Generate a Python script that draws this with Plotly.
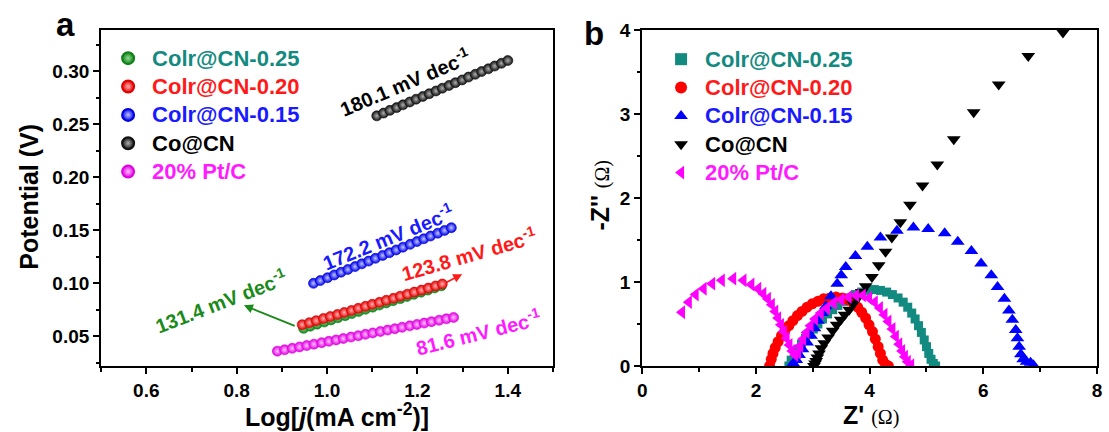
import plotly.graph_objects as go

# ---------------- Panel a : Tafel data ----------------
x_co25 = [0.948, 0.963, 0.978, 0.994, 1.009, 1.024, 1.040, 1.055, 1.070, 1.085, 1.101,
          1.116, 1.131, 1.146, 1.162, 1.177, 1.192, 1.208, 1.223, 1.238, 1.253]
y_co25 = [0.0575, 0.0595, 0.0615, 0.0635, 0.0655, 0.0675, 0.0695, 0.0715, 0.0735, 0.0755, 0.0775,
          0.0795, 0.0815, 0.0836, 0.0856, 0.0876, 0.0896, 0.0916, 0.0936, 0.0956, 0.0976]
x_co20 = [0.945, 0.961, 0.976, 0.992, 1.007, 1.023, 1.038, 1.054, 1.069, 1.085, 1.100,
          1.116, 1.131, 1.147, 1.162, 1.178, 1.193, 1.209, 1.224, 1.240, 1.255]
y_co20 = [0.0610, 0.0629, 0.0648, 0.0668, 0.0687, 0.0706, 0.0725, 0.0744, 0.0764, 0.0783, 0.0802,
          0.0821, 0.0840, 0.0859, 0.0879, 0.0898, 0.0917, 0.0936, 0.0955, 0.0975, 0.0994]
x_co15 = [0.970, 0.985, 1.001, 1.016, 1.031, 1.046, 1.062, 1.077, 1.092, 1.107, 1.123,
          1.138, 1.153, 1.168, 1.184, 1.199, 1.214, 1.229, 1.245, 1.260, 1.275]
y_co15 = [0.1000, 0.1026, 0.1053, 0.1079, 0.1105, 0.1131, 0.1158, 0.1184, 0.1210, 0.1236, 0.1263,
          0.1289, 0.1315, 0.1341, 0.1368, 0.1394, 0.1420, 0.1446, 0.1473, 0.1499, 0.1525]
x_cocn = [1.110, 1.125, 1.139, 1.154, 1.168, 1.183, 1.197, 1.212, 1.226, 1.241, 1.255,
          1.270, 1.284, 1.299, 1.313, 1.328, 1.342, 1.357, 1.371, 1.386, 1.400]
y_cocn = [0.2580, 0.2606, 0.2632, 0.2658, 0.2684, 0.2711, 0.2737, 0.2763, 0.2789, 0.2815, 0.2841,
          0.2867, 0.2893, 0.2919, 0.2946, 0.2972, 0.2998, 0.3024, 0.3050, 0.3076, 0.3102]
x_ptc = [0.890, 0.906, 0.923, 0.939, 0.955, 0.971, 0.988, 1.004, 1.020, 1.036, 1.053, 1.069, 1.085,
         1.101, 1.118, 1.134, 1.150, 1.166, 1.183, 1.199, 1.215, 1.231, 1.248, 1.264, 1.280]
y_ptc = [0.0360, 0.0373, 0.0387, 0.0400, 0.0413, 0.0426, 0.0440, 0.0453, 0.0466, 0.0479, 0.0493, 0.0506, 0.0519,
         0.0532, 0.0546, 0.0559, 0.0572, 0.0585, 0.0599, 0.0612, 0.0625, 0.0638, 0.0652, 0.0665, 0.0678]

tafel_labels = ["131.4 mV dec<sup>-1</sup>", "123.8 mV dec<sup>-1</sup>", "172.2 mV dec<sup>-1</sup>",
                "180.1 mV dec<sup>-1</sup>", "81.6 mV dec<sup>-1</sup>"]

# ---------------- Panel b : Nyquist data ----------------
zr_co25 = [2.58, 2.62, 2.68, 2.74, 2.80, 2.87, 2.94, 3.01, 3.09, 3.17, 3.26, 3.35, 3.44, 3.54, 3.64, 3.75, 3.86,
           3.97, 4.08, 4.19, 4.30, 4.40, 4.50, 4.59, 4.67, 4.74, 4.80, 4.86, 4.91, 4.96, 5.00, 5.04, 5.08, 5.12, 5.16]
zi_co25 = [0.00, 0.07, 0.14, 0.20, 0.26, 0.33, 0.38, 0.44, 0.50, 0.56, 0.62, 0.67, 0.72, 0.77, 0.81, 0.85, 0.88,
           0.90, 0.91, 0.90, 0.88, 0.85, 0.81, 0.76, 0.70, 0.63, 0.56, 0.48, 0.40, 0.31, 0.23, 0.15, 0.08, 0.03, 0.00]
zr_co20 = [2.24, 2.27, 2.30, 2.34, 2.39, 2.45, 2.51, 2.58, 2.65, 2.73, 2.81, 2.90, 2.99, 3.09, 3.19, 3.30,
           3.41, 3.52, 3.62, 3.71, 3.79, 3.86, 3.93, 3.99, 4.05, 4.10, 4.15, 4.19, 4.23, 4.28, 4.33]
zi_co20 = [0.00, 0.08, 0.15, 0.22, 0.29, 0.36, 0.42, 0.48, 0.54, 0.60, 0.65, 0.70, 0.74, 0.77, 0.80, 0.81,
           0.82, 0.81, 0.79, 0.75, 0.70, 0.64, 0.57, 0.49, 0.41, 0.32, 0.23, 0.15, 0.07, 0.02, 0.00]
zr_co15 = [2.62, 2.66, 2.71, 2.76, 2.82, 2.90, 2.97, 3.03, 3.09, 3.16, 3.23, 3.32, 3.43, 3.50, 3.58, 3.75, 3.96,
           4.19, 4.48, 4.77, 5.03, 5.32, 5.55, 5.79, 5.96, 6.14, 6.25, 6.37, 6.45, 6.51, 6.57, 6.60, 6.63,
           6.66, 6.70, 6.76, 6.83, 6.88]
zi_co15 = [0.00, 0.03, 0.07, 0.13, 0.20, 0.28, 0.36, 0.45, 0.54, 0.63, 0.71, 0.83, 0.98, 1.08, 1.18, 1.31, 1.42,
           1.53, 1.61, 1.65, 1.63, 1.58, 1.48, 1.37, 1.22, 1.08, 0.94, 0.80, 0.66, 0.55, 0.43, 0.33, 0.23,
           0.14, 0.08, 0.05, 0.04, 0.01]
zr_cocn = [3.02, 3.04, 3.06, 3.08, 3.11, 3.15, 3.20, 3.27, 3.35, 3.42, 3.49, 3.56, 3.64, 3.71, 3.78, 3.86, 3.93,
           4.04, 4.16, 4.28, 4.39, 4.54, 4.71, 4.93, 5.19, 5.48, 5.83, 6.27, 6.79, 7.40]
zi_cocn = [0.00, 0.03, 0.06, 0.10, 0.15, 0.21, 0.27, 0.34, 0.42, 0.49, 0.55, 0.61, 0.67, 0.74, 0.80, 0.88, 0.95,
           1.06, 1.20, 1.36, 1.53, 1.71, 1.92, 2.15, 2.40, 2.70, 3.02, 3.35, 3.69, 3.97]
zr_ptc = [0.70, 0.82, 0.94, 1.08, 1.23, 1.40, 1.60, 1.78, 1.92, 2.04, 2.13, 2.21, 2.28, 2.34, 2.39, 2.44, 2.49,
          2.54, 2.59, 2.64, 2.69, 2.74, 2.78, 2.83, 2.89, 2.96, 3.04, 3.14, 3.25, 3.37, 3.50, 3.63, 3.76,
          3.88, 3.99, 4.09, 4.18, 4.26, 4.33, 4.40, 4.46, 4.52, 4.57, 4.62, 4.67, 4.73]
zi_ptc = [0.64, 0.76, 0.85, 0.92, 0.98, 1.02, 1.04, 1.02, 0.97, 0.92, 0.86, 0.80, 0.73, 0.65, 0.57, 0.49, 0.41,
          0.33, 0.25, 0.18, 0.13, 0.16, 0.24, 0.32, 0.40, 0.48, 0.56, 0.63, 0.69, 0.75, 0.79, 0.82, 0.84,
          0.84, 0.81, 0.76, 0.69, 0.61, 0.53, 0.44, 0.35, 0.26, 0.18, 0.11, 0.05, 0.01]

names = ["Colr@CN-0.25", "Colr@CN-0.20", "Colr@CN-0.15", "Co@CN", "20% Pt/C"]

FONT = "Liberation Sans, Arial, sans-serif"
TEAL = "#138a80"
GREEN = "#1a8a1a"
RED = "#ff1a1a"
BLUE = "#1a1aff"
BLACK = "#000000"
MAG = "#ff1aff"

fig = go.Figure()


def legend_name(nm, col):
    return f"<span style='color:{col};font-size:22px'>{nm}</span>"


# panel a traces
tafel = [
    (x_co25, y_co25, "#11801a", "#8fe08f", TEAL),
    (x_co20, y_co20, "#e00000", "#ffb0b0", RED),
    (x_co15, y_co15, "#0000e6", "#c0c8ff", BLUE),
    (x_cocn, y_cocn, "#111111", "#b0b0b0", BLACK),
    (x_ptc, y_ptc, "#e000e0", "#ffc0ff", MAG),
]
for (xs, ys, edge, hi, tcol), nm in zip(tafel, names):
    fig.add_trace(go.Scatter(
        x=xs, y=ys, mode="markers", xaxis="x", yaxis="y", legend="legend",
        name=legend_name(nm, tcol),
        marker=dict(symbol="circle", size=10, color=edge,
                    gradient=dict(type="radial", color=hi),
                    line=dict(width=0.6, color=edge)),
    ))

# panel b traces
nyq = [
    (zr_co25, zi_co25, "square", 9, "#138a80", TEAL),
    (zr_co20, zi_co20, "circle", 11, "#ff0000", RED),
    (zr_co15, zi_co15, "triangle-up", 12, "#0000ff", BLUE),
    (zr_cocn, zi_cocn, "triangle-down", 12, "#000000", BLACK),
    (zr_ptc, zi_ptc, "triangle-left", 12, "#ff00ff", MAG),
]
for (xs, ys, sym, sz, col, tcol), nm in zip(nyq, names):
    fig.add_trace(go.Scatter(
        x=xs, y=ys, mode="markers", xaxis="x2", yaxis="y2", legend="legend2",
        name=legend_name(nm, tcol),
        marker=dict(symbol=sym, size=sz, color=col, line=dict(width=0)),
    ))

axis_common = dict(
    showline=True, linecolor="black", linewidth=2, mirror=True,
    ticks="outside", ticklen=6, tickwidth=2, tickcolor="black",
    showgrid=False, zeroline=False,
    tickfont=dict(family=FONT, size=19, color="black", weight="bold"),
)
minor_common = dict(ticks="outside", ticklen=3.5, tickwidth=1.5, tickcolor="black")

fig.update_layout(
    width=1109, height=432,
    margin=dict(l=0, r=0, t=30, b=66),
    paper_bgcolor="white", plot_bgcolor="white",
    font=dict(family=FONT, color="black"),
    xaxis=dict(domain=[97 / 1109, 553 / 1109], range=[0.5, 1.5], tick0=0.6, dtick=0.2,
               tickformat=".1f", anchor="y", minor=dict(dtick=0.1, tick0=0.5, **minor_common),
               **axis_common),
    yaxis=dict(domain=[0, 1], range=[0.022, 0.339], tick0=0.05, dtick=0.05, tickformat=".2f",
               anchor="x", minor=dict(dtick=0.025, tick0=0.025, **minor_common),
               **axis_common),
    xaxis2=dict(domain=[643 / 1109, 1102 / 1109], range=[0, 8], tick0=0, dtick=2, anchor="y2",
                minor=dict(dtick=1, tick0=0, **minor_common), **axis_common),
    yaxis2=dict(domain=[0, 1], range=[0, 4], tick0=0, dtick=1, anchor="x2",
                minor=dict(dtick=0.5, tick0=0, **minor_common), **axis_common),
    legend=dict(x=100 / 1109, y=(366 - 39) / 336, xanchor="left", yanchor="top",
                bgcolor="rgba(0,0,0,0)", borderwidth=0, itemwidth=38,
                font=dict(family=FONT, size=19.5, weight="bold"), itemsizing="constant"),
    legend2=dict(x=658 / 1109, y=(366 - 40) / 336, xanchor="left", yanchor="top",
                 bgcolor="rgba(0,0,0,0)", borderwidth=0, itemwidth=38,
                 font=dict(family=FONT, size=19.5, weight="bold"), itemsizing="constant"),
    showlegend=True,
)

ann = []
slope_pos = [
    (0.764, 0.0840, -21, GREEN, tafel_labels[0]),
    (1.313, 0.1283, -16, RED, tafel_labels[1]),
    (1.133, 0.1445, -22, BLUE, tafel_labels[2]),
    (1.172, 0.2905, -23, BLACK, tafel_labels[3]),
    (1.335, 0.0549, -14, MAG, tafel_labels[4]),
]
for x, y, ang, col, txt in slope_pos:
    ann.append(dict(x=x, y=y, xref="x", yref="y", text=txt, showarrow=False, textangle=ang,
                    font=dict(family=FONT, size=20, color=col, weight="bold")))
# arrows
ann.append(dict(x=0.816, y=0.0792, ax=0.935, ay=0.0587, xref="x", yref="y", axref="x", ayref="y",
                text=" ", showarrow=True, arrowhead=2, arrowsize=1, arrowwidth=1.8, arrowcolor=GREEN))
ann.append(dict(x=1.299, y=0.1086, ax=1.258, ay=0.0995, xref="x", yref="y", axref="x", ayref="y",
                text=" ", showarrow=True, arrowhead=2, arrowsize=1, arrowwidth=1.8, arrowcolor=RED))


def paper_y(py):
    return (366 - py) / 336


OMEGA = "<span style='font-family:Liberation Serif;font-weight:normal;font-size:20px'>(Ω)</span>"

ann.append(dict(x=24 / 1109, y=paper_y(197), xref="paper", yref="paper", text="Potential (V)",
                textangle=-90, showarrow=False, xanchor="center", yanchor="middle",
                font=dict(family=FONT, size=25, color="black", weight="bold")))
ann.append(dict(x=335 / 1109, y=paper_y(415), xref="paper", yref="paper",
                text="Log[<i>j</i>(mA cm<sup>-2</sup>)]",
                showarrow=False, xanchor="center", yanchor="middle",
                font=dict(family=FONT, size=25, color="black", weight="bold")))
ann.append(dict(x=600 / 1109, y=paper_y(195), xref="paper", yref="paper",
                text="-Z'' " + OMEGA,
                textangle=-90, showarrow=False, xanchor="center", yanchor="middle",
                font=dict(family=FONT, size=25, color="black", weight="bold")))
ann.append(dict(x=874 / 1109, y=paper_y(415), xref="paper", yref="paper",
                text="Z' " + OMEGA,
                showarrow=False, xanchor="center", yanchor="middle",
                font=dict(family=FONT, size=25, color="black", weight="bold")))
ann.append(dict(x=61 / 1109, y=paper_y(24), xref="paper", yref="paper", text="a", showarrow=False,
                xanchor="center", yanchor="middle",
                font=dict(family=FONT, size=33, color="black", weight="bold")))
ann.append(dict(x=594 / 1109, y=paper_y(34), xref="paper", yref="paper", text="b", showarrow=False,
                xanchor="center", yanchor="middle",
                font=dict(family=FONT, size=33, color="black", weight="bold")))

fig.update_layout(annotations=ann)
fig.write_html("out.html")
